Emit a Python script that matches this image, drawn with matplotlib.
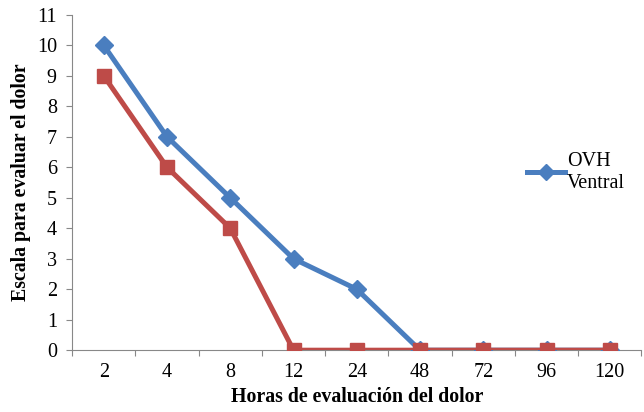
import matplotlib.pyplot as plt
from matplotlib.lines import Line2D

plt.rcParams['font.family'] = ['Liberation Serif', 'DejaVu Serif']

horas = ['2', '4', '8', '12', '24', '48', '72', '96', '120']
ovh_ventral = [10, 7, 5, 3, 2, 0, 0, 0, 0]
otro_grupo = [9, 6, 4, 0, 0, 0, 0, 0, 0]

blue = '#4A7EBF'
red = '#BE4B48'

fig = plt.figure(figsize=(6.44, 4.12), dpi=100)
ax = fig.add_axes([0.112, 0.150, 0.884, 0.814])

x = list(range(len(horas)))
ax.plot(x, ovh_ventral, color=blue, lw=3.6, marker='D', ms=9.5, zorder=3)
ax.plot(x, otro_grupo, color=red, lw=3.6, marker='s', ms=10, zorder=4)

ax.set_xlim(-0.5, len(horas) - 0.5)
ax.set_ylim(0, 11)
ax.set_yticks(range(0, 12))

# category labels centred, tick marks on the boundaries
ax.set_xticks([i - 0.5 for i in range(len(horas) + 1)])
ax.set_xticklabels([])
ax.set_xticks(x, minor=True)
ax.set_xticklabels(horas, minor=True)
ax.tick_params(axis='x', which='minor', length=0, pad=9, labelsize=14.5)
ax.tick_params(axis='x', which='major', length=4, color='#888888')
ax.tick_params(axis='y', length=4, color='#888888', labelsize=14.5, pad=7)

for s in ['top', 'right']:
    ax.spines[s].set_visible(False)
for s in ['left', 'bottom']:
    ax.spines[s].set_color('#888888')

ax.set_xlabel('Horas de evaluación del dolor', fontsize=14.3, fontweight='bold', labelpad=4)
ax.set_ylabel('Escala para evaluar el dolor', fontsize=14.3, fontweight='bold', labelpad=4)

handle = Line2D([], [], color=blue, lw=3.6, marker='D', ms=8)
fig.legend([handle], ['OVH\nVentral'], loc='upper left', bbox_to_anchor=(0.79, 0.675),
           frameon=False, fontsize=14.5, handlelength=1.9, handletextpad=0.1,
           labelspacing=0.2)

fig.savefig('out.png', dpi=100)
